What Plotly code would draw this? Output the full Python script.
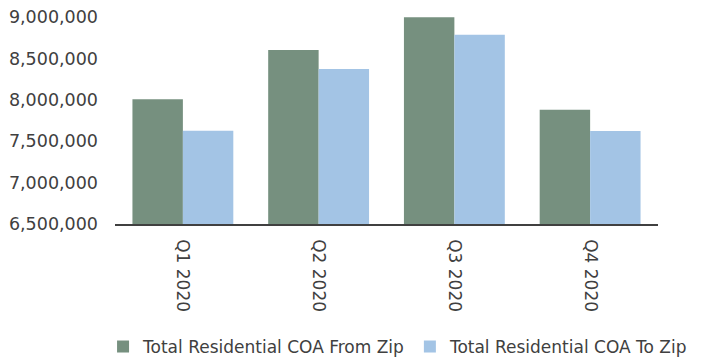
import plotly.graph_objects as go

categories = ["Q1 2020", "Q2 2020", "Q3 2020", "Q4 2020"]
from_zip = [8006000, 8601000, 8996000, 7880000]
to_zip = [7627000, 8372000, 8786000, 7623000]
series_names = ["Total Residential COA From Zip", "Total Residential COA To Zip"]
y_ticks = [6500000, 7000000, 7500000, 8000000, 8500000, 9000000]

FONT = "DejaVu Sans"
TEXT = "#404040"

fig = go.Figure()
fig.add_trace(go.Bar(x=categories, y=from_zip, name=series_names[0],
                     marker=dict(color="#76907F", line=dict(width=0))))
fig.add_trace(go.Bar(x=categories, y=to_zip, name=series_names[1],
                     marker=dict(color="#A3C4E5", line=dict(width=0))))

fig.update_layout(
    width=702, height=358,
    margin=dict(l=115, r=44, t=17, b=134, autoexpand=False),
    paper_bgcolor="white", plot_bgcolor="white",
    barmode="group", bargap=0.257, bargroupgap=0,
    font=dict(family=FONT, size=17, color=TEXT),
    showlegend=True,
    legend=dict(orientation="h", x=-0.022, xanchor="left", y=-0.594, yanchor="middle",
                font=dict(family=FONT, size=17, color=TEXT), itemwidth=30,
                traceorder="normal", tracegroupgap=0),
    xaxis=dict(showline=True, linecolor="#404040", linewidth=1.5, ticks="",
               tickangle=90, tickfont=dict(family=FONT, size=17, color=TEXT),
               ticklabelstandoff=10, automargin=False,
               showgrid=False, zeroline=False),
    yaxis=dict(range=[6500000, 9000000], tickvals=y_ticks, tickformat=",",
               showline=False, showgrid=False, zeroline=False, ticks="",
               ticklabelstandoff=16, automargin=False,
               tickfont=dict(family=FONT, size=17.5, color=TEXT)),
)

fig.write_html("out.html")
